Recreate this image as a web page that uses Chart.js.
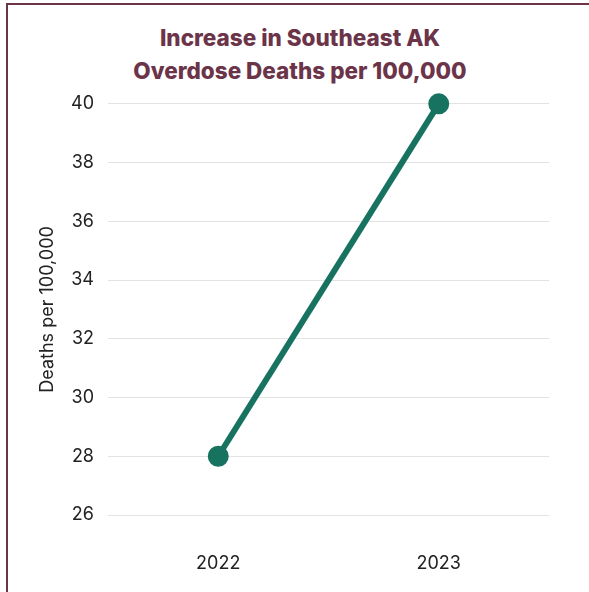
<!DOCTYPE html>
<html lang="en">
<head>
  <meta charset="UTF-8" />
  <title>Southeast AK Overdose Deaths</title>
  <script src="https://cdn.jsdelivr.net/npm/chart.js"></script>
  <style>
    body {
      margin: 0;
      background: #fff;
      overflow: hidden;
      font-family: 'Inter', sans-serif;
    }

    .frame {
      position: absolute;
      left: 6px;
      top: 3px;
      width: 620px;
      height: 620px;
      border-left: 2px solid #6b3449;
      border-top: 2px solid #6b3449;
    }

    .chart-title {
      width: 584px;
      padding-top: 16px;
      text-align: center;
      color: #6b3449;
      font-size: 22.5px;
      font-weight: 800;
      line-height: 33px;
    }

    .chart-box {
      position: relative;
      width: 581px;
      height: 513px;
      margin-top: -8px;
    }
  </style>
</head>
<body>
  <div class="frame">
    <div class="chart-title" id="chartTitle"></div>
    <div class="chart-box">
      <canvas id="deathsChart"></canvas>
    </div>
  </div>

  <script>
    const years = ["2022", "2023"];
    const deathsPer100k = [28, 40];
    const titleLines = ["Increase in Southeast AK", "Overdose Deaths per 100,000"];
    const yTitle = "Deaths per 100,000";

    const teal = "#17735f";
    const tickFont = { family: "Inter", size: 18 };

    document.getElementById("chartTitle").innerHTML = titleLines.join("<br>");

    const ctx = document.getElementById("deathsChart").getContext("2d");
    new Chart(ctx, {
      type: "line",
      data: {
        labels: years,
        datasets: [{
          label: yTitle,
          data: deathsPer100k,
          borderColor: teal,
          backgroundColor: teal,
          borderWidth: 6,
          pointRadius: 7.5,
          pointHoverRadius: 7.5,
          fill: false,
          clip: false,
          tension: 0
        }]
      },
      options: {
        responsive: true,
        maintainAspectRatio: false,
        animation: false,
        layout: { padding: { left: 25, right: 40, top: 0, bottom: 0 } },
        plugins: {
          legend: { display: false },
          tooltip: { enabled: false }
        },
        scales: {
          x: {
            offset: true,
            grid: { display: false, drawTicks: false },
            border: { display: false },
            ticks: { color: "#222", font: tickFont, padding: 38 },
            afterFit: scale => { scale.height = 77; }
          },
          y: {
            min: 26,
            max: 40,
            ticks: { stepSize: 2, color: "#222", font: tickFont, padding: 14 },
            grid: { color: "#e2e2e2", drawTicks: false },
            border: { display: false },
            title: {
              display: true,
              text: yTitle,
              color: "#222",
              font: tickFont,
              padding: { top: 4, bottom: 4 }
            },
            afterFit: scale => { scale.width = 75; }
          }
        }
      }
    });
  </script>
</body>
</html>
